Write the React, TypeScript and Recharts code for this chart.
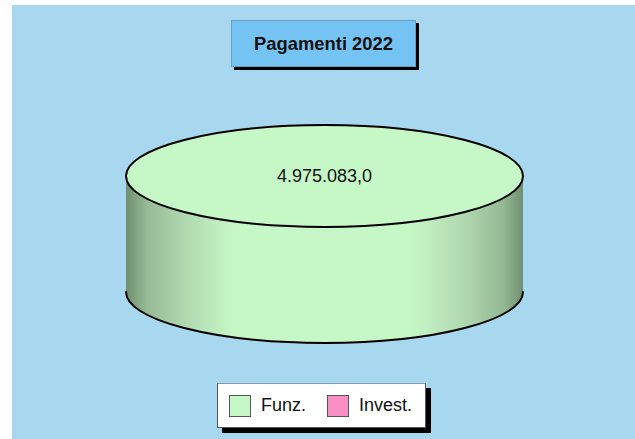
import { PieChart, Pie, Cell } from 'recharts'

const categories = ['Funz.', 'Invest.']
const payments = [4975083, 0]
const sliceColors = ['#c6f7c6', '#f78fc4']
const chartTitle = 'Pagamenti 2022'
const totalLabel = '4.975.083,0'

const data = categories.map((name, i) => ({ name, value: payments[i] }))

const FONT = '"Liberation Sans", Arial, sans-serif'
const TILT = 51 / 198.5
const WALL = 116

// Pie sector drawn as a flattened cylinder
function CylinderSlice(props: any) {
  const { cx, cy, outerRadius, startAngle, endAngle, fill } = props
  if (Math.abs(endAngle - startAngle) < 0.01) return null
  const rx = outerRadius
  const ry = outerRadius * TILT
  const left = cx - rx
  const right = cx + rx
  return (
    <g>
      <path
        d={`M${left},${cy} L${left},${cy + WALL} A${rx},${ry} 0 0 0 ${right},${cy + WALL} L${right},${cy} Z`}
        fill="url(#wallShade)"
      />
      <path
        d={`M${left},${cy + WALL} A${rx},${ry} 0 0 0 ${right},${cy + WALL}`}
        fill="none"
        stroke="#000"
        strokeWidth={2}
        strokeLinecap="round"
      />
      <ellipse cx={cx} cy={cy} rx={rx} ry={ry} fill={fill} stroke="#000" strokeWidth={2} />
      <text x={cx} y={cy + 6} textAnchor="middle" fontFamily={FONT} fontSize={18} fill="#111">
        {totalLabel}
      </text>
    </g>
  )
}

function LegendBox() {
  return (
    <div
      style={{
        position: 'absolute',
        left: 205,
        top: 378,
        boxSizing: 'border-box',
        width: 209,
        height: 45,
        background: '#fff',
        border: '1px solid #555',
        borderTopColor: '#8a9aa6',
        boxShadow: '5px 5px 0 #000',
        display: 'flex',
        alignItems: 'center',
        fontFamily: FONT,
        fontSize: 18,
        color: '#111',
      }}
    >
      {categories.map((name, i) => (
        <div key={name} style={{ display: 'flex', alignItems: 'center', marginLeft: i === 0 ? 11 : 0, width: i === 0 ? 98 : 90 }}>
          <span
            style={{
              boxSizing: 'border-box',
              width: 22,
              height: 22,
              background: sliceColors[i],
              border: '1px solid #555',
              marginRight: 10,
            }}
          />
          {name}
        </div>
      ))}
    </div>
  )
}

export default function App() {
  return (
    <div style={{ position: 'absolute', left: 12, top: 5, width: 623, height: 434, background: '#a8d8f0', overflow: 'hidden' }}>
      <PieChart width={623} height={434} margin={{ top: 0, right: 0, bottom: 0, left: 0 }}>
        <defs>
          <linearGradient id="wallShade" x1="0" y1="0" x2="1" y2="0">
            <stop offset="0" stopColor="#6f906f" />
            <stop offset="0.05" stopColor="#94b894" />
            <stop offset="0.14" stopColor="#aed6ae" />
            <stop offset="0.27" stopColor="#c6f7c6" />
            <stop offset="0.72" stopColor="#c6f7c6" />
            <stop offset="0.86" stopColor="#aed6ae" />
            <stop offset="0.95" stopColor="#94b894" />
            <stop offset="1" stopColor="#6f906f" />
          </linearGradient>
        </defs>
        <Pie
          data={data}
          dataKey="value"
          nameKey="name"
          cx={312.5}
          cy={171}
          outerRadius={198.5}
          innerRadius={0}
          startAngle={90}
          endAngle={-270}
          stroke="none"
          shape={CylinderSlice}
          isAnimationActive={false}
        >
          {data.map((_, i) => (
            <Cell key={i} fill={sliceColors[i]} />
          ))}
        </Pie>
      </PieChart>
      <LegendBox />
      <div
        style={{
          position: 'absolute',
          left: 219,
          top: 15,
          boxSizing: 'border-box',
          width: 185,
          height: 47,
          background: '#75c3f2',
          border: '1px solid #6a9fc0',
          boxShadow: '3px 3px 0 #000',
          display: 'flex',
          alignItems: 'center',
          justifyContent: 'center',
          fontFamily: FONT,
          fontWeight: 'bold',
          fontSize: 18.4,
          color: '#111',
        }}
      >
        {chartTitle}
      </div>
    </div>
  )
}
